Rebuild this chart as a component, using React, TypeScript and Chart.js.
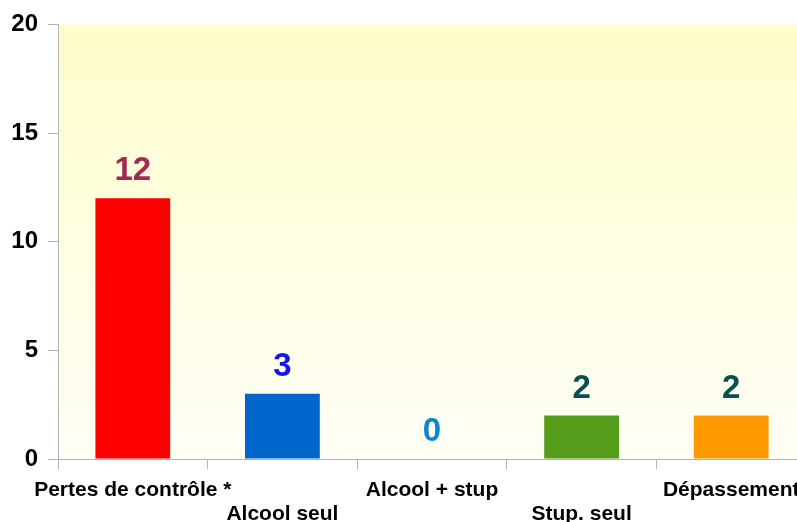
import React, { useEffect, useRef } from "react";
import { Chart, registerables } from "chart.js";

Chart.register(...registerables);

const categories: (string | string[])[] = [
  ["Pertes de contrôle *"],
  ["", "Alcool seul"],
  ["Alcool + stup"],
  ["", "Stup. seul"],
  ["Dépassement"],
];
const values = [12, 3, 0, 2, 2];
const barColors = ["#FF0000", "#0066CC", "#0084D1", "#579D1C", "#FF9900"];
const labelColors = ["#9E2B55", "#1414EE", "#0A86D4", "#0A4F4F", "#0A4F4F"];
const yTicks = [0, 5, 10, 15, 20];

const FONT = "'Liberation Sans', Arial, sans-serif";

const bgPlugin = {
  id: "bgGradient",
  beforeDraw(chart: any) {
    const { ctx, chartArea } = chart;
    if (!chartArea) return;
    const g = ctx.createLinearGradient(0, chartArea.top, 0, chartArea.bottom);
    g.addColorStop(0, "#FFFDCB");
    g.addColorStop(1, "#FEFEF6");
    ctx.save();
    ctx.fillStyle = g;
    ctx.fillRect(chartArea.left, chartArea.top, chartArea.right - chartArea.left, chartArea.bottom - chartArea.top);
    ctx.restore();
  },
};

const valueLabelPlugin = {
  id: "valueLabels",
  afterDatasetsDraw(chart: any) {
    const { ctx } = chart;
    const meta = chart.getDatasetMeta(0);
    ctx.save();
    ctx.font = `bold 33px ${FONT}`;
    ctx.textAlign = "center";
    ctx.textBaseline = "middle";
    meta.data.forEach((el: any, i: number) => {
      ctx.fillStyle = labelColors[i];
      ctx.fillText(String(values[i]), el.x, el.y - 27);
    });
    ctx.restore();
  },
};

export default function App() {
  const ref = useRef<HTMLCanvasElement>(null);
  useEffect(() => {
    if (!ref.current) return;
    const chart = new Chart(ref.current, {
      type: "bar",
      data: {
        labels: categories as any,
        datasets: [
          {
            data: values,
            backgroundColor: barColors,
            borderWidth: 0,
            categoryPercentage: 1,
            barPercentage: 0.5,
          },
        ],
      },
      options: {
        animation: false,
        responsive: false,
        maintainAspectRatio: false,
        layout: { padding: { top: 24, left: 0, right: 0, bottom: 0 } },
        plugins: {
          legend: { display: false },
          tooltip: { enabled: false },
          title: { display: false },
        },
        scales: {
          x: {
            grid: {
              display: true,
              drawOnChartArea: false,
              drawTicks: true,
              tickLength: 10,
              color: "#B3B3B3",
              offset: true,
            },
            border: { display: true, color: "#B3B3B3" },
            ticks: {
              color: "#000",
              font: { family: FONT, size: 21, weight: "bold", lineHeight: 1.15 },
              padding: 9,
              maxRotation: 0,
              minRotation: 0,
              autoSkip: false,
            },
            afterFit: (s: any) => {
              s.height = 63;
              s.paddingLeft = 0;
              s.paddingRight = 0;
            },
          },
          y: {
            min: 0,
            max: 20,
            afterBuildTicks: (s: any) => {
              s.ticks = yTicks.map((v) => ({ value: v }));
            },
            grid: {
              display: true,
              drawOnChartArea: false,
              drawTicks: true,
              tickLength: 10,
              color: "#B3B3B3",
            },
            border: { display: true, color: "#B3B3B3" },
            ticks: {
              color: "#000",
              font: { family: FONT, size: 24, weight: "bold" },
              padding: 10,
            },
            afterFit: (s: any) => {
              s.width = 58;
            },
          },
        },
      },
      plugins: [bgPlugin, valueLabelPlugin],
    });
    return () => chart.destroy();
  }, []);
  return (
    <div style={{ position: "fixed", left: 0, top: 0, width: 806, height: 522, background: "#fff" }}>
      <canvas ref={ref} width={806} height={522} style={{ display: "block", width: 806, height: 522 }} />
    </div>
  );
}
